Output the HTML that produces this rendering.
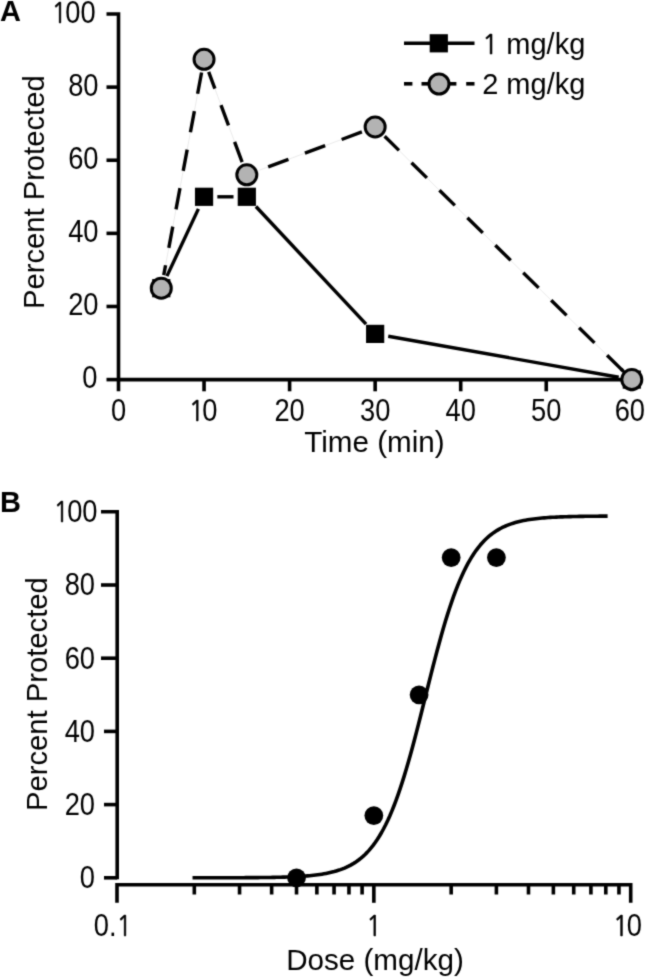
<!DOCTYPE html>
<html><head><meta charset="utf-8"><title>Figure</title>
<style>html,body{margin:0;padding:0;background:#fff;}svg{display:block;}</style></head>
<body><svg width="645" height="977" viewBox="0 0 645 977" font-family='"Liberation Sans", Arial, Helvetica, sans-serif' font-size="29" fill="#000">
<defs><filter id="soft" x="0" y="0" width="1" height="1" color-interpolation-filters="sRGB"><feConvolveMatrix order="3" kernelMatrix="0.03 0.1 0.03 0.1 0.48 0.1 0.03 0.1 0.03" edgeMode="duplicate"/></filter></defs>
<g filter="url(#soft)">
<rect width="645" height="977" fill="#fff"/>
<path d="M106.5,14.00 H118.5 V391.3" fill="none" stroke="#000" stroke-width="3.6" stroke-linejoin="miter"/>
<line x1="106.5" y1="379.60" x2="118.5" y2="379.60" stroke="#000" stroke-width="3.6"/>
<line x1="106.5" y1="306.48" x2="118.5" y2="306.48" stroke="#000" stroke-width="3.6"/>
<line x1="106.5" y1="233.36" x2="118.5" y2="233.36" stroke="#000" stroke-width="3.6"/>
<line x1="106.5" y1="160.24" x2="118.5" y2="160.24" stroke="#000" stroke-width="3.6"/>
<line x1="106.5" y1="87.12" x2="118.5" y2="87.12" stroke="#000" stroke-width="3.6"/>
<line x1="117.0" y1="379.6" x2="631.80" y2="379.6" stroke="#000" stroke-width="3.6"/>
<line x1="204.05" y1="379.6" x2="204.05" y2="391.3" stroke="#000" stroke-width="3.6"/>
<line x1="289.60" y1="379.6" x2="289.60" y2="391.3" stroke="#000" stroke-width="3.6"/>
<line x1="375.15" y1="379.6" x2="375.15" y2="391.3" stroke="#000" stroke-width="3.6"/>
<line x1="460.70" y1="379.6" x2="460.70" y2="391.3" stroke="#000" stroke-width="3.6"/>
<line x1="546.25" y1="379.6" x2="546.25" y2="391.3" stroke="#000" stroke-width="3.6"/>
<line x1="631.80" y1="379.6" x2="631.80" y2="391.3" stroke="#000" stroke-width="3.6"/>
<text x="0" y="0" transform="translate(97.5,388.00) scale(0.88,1)" text-anchor="end" font-size="31">0</text>
<text x="0" y="0" transform="translate(98.5,314.88) scale(0.88,1)" text-anchor="end" font-size="31">20</text>
<text x="0" y="0" transform="translate(98.5,241.76) scale(0.88,1)" text-anchor="end" font-size="31">40</text>
<text x="0" y="0" transform="translate(98.5,168.64) scale(0.88,1)" text-anchor="end" font-size="31">60</text>
<text x="0" y="0" transform="translate(98.5,95.52) scale(0.88,1)" text-anchor="end" font-size="31">80</text>
<text x="0" y="0" transform="translate(95.6,23.10) scale(0.88,1)" text-anchor="end" font-size="31"><tspan font-family="NanumGothic, &quot;Liberation Sans&quot;, sans-serif" stroke="#000" stroke-width="0.6" font-size="0.933em">1</tspan><tspan dx="-2.0">0</tspan>0</text>
<text x="0" y="0" transform="translate(118.50,421.4) scale(0.88,1)" text-anchor="middle" font-size="31">0</text>
<text x="0" y="0" transform="translate(203.05,421.4) scale(0.88,1)" text-anchor="middle" font-size="31"><tspan font-family="NanumGothic, &quot;Liberation Sans&quot;, sans-serif" stroke="#000" stroke-width="0.6" font-size="0.933em">1</tspan><tspan dx="-2.0">0</tspan></text>
<text x="0" y="0" transform="translate(289.60,421.4) scale(0.88,1)" text-anchor="middle" font-size="31">20</text>
<text x="0" y="0" transform="translate(375.15,421.4) scale(0.88,1)" text-anchor="middle" font-size="31">30</text>
<text x="0" y="0" transform="translate(460.70,421.4) scale(0.88,1)" text-anchor="middle" font-size="31">40</text>
<text x="0" y="0" transform="translate(546.25,421.4) scale(0.88,1)" text-anchor="middle" font-size="31">50</text>
<text x="0" y="0" transform="translate(629.80,421.4) scale(0.88,1)" text-anchor="middle" font-size="31">60</text>
<text x="374.4" y="452.1" text-anchor="middle" font-size="29.6">Time (min)</text>
<text transform="translate(43.6,192.2) rotate(-90)" text-anchor="middle" font-size="29.2">Percent Protected</text>
<text x="0" y="21" font-weight="bold" font-size="29">A</text>
<line x1="166.91" y1="276.15" x2="198.41" y2="208.85" stroke="#000" stroke-width="3.4"/>
<line x1="217.35" y1="196.80" x2="233.52" y2="196.80" stroke="#000" stroke-width="3.4"/>
<line x1="255.91" y1="206.51" x2="366.06" y2="324.19" stroke="#000" stroke-width="3.4"/>
<line x1="388.24" y1="336.23" x2="618.71" y2="377.27" stroke="#000" stroke-width="3.4"/>
<line x1="163.72" y1="275.13" x2="201.61" y2="72.41" stroke="#e4e4e4" stroke-width="0.8"/><line x1="163.72" y1="275.13" x2="201.61" y2="72.41" stroke="#000" stroke-width="3.4" stroke-dasharray="21.6 17.6" stroke-dashoffset="11.50"/>
<line x1="208.67" y1="71.81" x2="242.21" y2="162.39" stroke="#e4e4e4" stroke-width="0.8"/><line x1="208.67" y1="71.81" x2="242.21" y2="162.39" stroke="#000" stroke-width="3.4" stroke-dasharray="21.6 17.6" stroke-dashoffset="3.70"/>
<line x1="259.29" y1="170.21" x2="362.69" y2="131.62" stroke="#e4e4e4" stroke-width="0.8"/><line x1="259.29" y1="170.21" x2="362.69" y2="131.62" stroke="#000" stroke-width="3.4" stroke-dasharray="21.6 17.6" stroke-dashoffset="29.70"/>
<line x1="384.63" y1="136.30" x2="623.53" y2="371.46" stroke="#e4e4e4" stroke-width="0.8"/><line x1="384.63" y1="136.30" x2="623.53" y2="371.46" stroke="#000" stroke-width="3.4" stroke-dasharray="21.6 17.6" stroke-dashoffset="1.50"/>
<line x1="621.11" y1="369.08" x2="623.53" y2="371.46" stroke="#000" stroke-width="3.4"/>
<rect x="152.18" y="279.10" width="18.2" height="18.2" fill="#000"/>
<rect x="194.95" y="187.70" width="18.2" height="18.2" fill="#000"/>
<rect x="237.72" y="187.70" width="18.2" height="18.2" fill="#000"/>
<rect x="366.05" y="324.80" width="18.2" height="18.2" fill="#000"/>
<rect x="622.70" y="370.50" width="18.2" height="18.2" fill="#000"/>
<circle cx="161.28" cy="288.20" r="10.0" fill="#b3b3b3" stroke="#000" stroke-width="3"/>
<circle cx="204.05" cy="59.33" r="10.0" fill="#b3b3b3" stroke="#000" stroke-width="3"/>
<circle cx="246.82" cy="174.86" r="10.0" fill="#b3b3b3" stroke="#000" stroke-width="3"/>
<circle cx="375.15" cy="126.97" r="10.0" fill="#b3b3b3" stroke="#000" stroke-width="3"/>
<circle cx="631.80" cy="379.60" r="10.0" fill="#b3b3b3" stroke="#000" stroke-width="3"/>
<line x1="404" y1="43.2" x2="474.5" y2="43.2" stroke="#000" stroke-width="3.6"/>
<rect x="429.70" y="34.20" width="18.2" height="18.2" fill="#000"/>
<line x1="404" y1="83.8" x2="412.4" y2="83.8" stroke="#000" stroke-width="3.6"/>
<line x1="421.5" y1="83.8" x2="430" y2="83.8" stroke="#000" stroke-width="3.6"/>
<line x1="448" y1="83.8" x2="456.4" y2="83.8" stroke="#000" stroke-width="3.6"/>
<line x1="466.2" y1="83.8" x2="474.5" y2="83.8" stroke="#000" stroke-width="3.6"/>
<circle cx="439" cy="84" r="10.0" fill="#b3b3b3" stroke="#000" stroke-width="3"/>
<text x="481.9" y="53.8"><tspan font-family="NanumGothic, &quot;Liberation Sans&quot;, sans-serif" stroke="#000" stroke-width="0.6" font-size="0.933em">1</tspan> mg/kg</text>
<text x="482.2" y="93.8">2 mg/kg</text>
<path d="M101,511.80 H117.2 V879.3" fill="none" stroke="#000" stroke-width="3.6" stroke-linejoin="miter"/>
<line x1="104" y1="877.80" x2="117.2" y2="877.80" stroke="#000" stroke-width="3.6"/>
<line x1="104" y1="804.60" x2="117.2" y2="804.60" stroke="#000" stroke-width="3.6"/>
<line x1="104" y1="731.40" x2="117.2" y2="731.40" stroke="#000" stroke-width="3.6"/>
<line x1="101" y1="658.20" x2="117.2" y2="658.20" stroke="#000" stroke-width="3.6"/>
<line x1="101" y1="585.00" x2="117.2" y2="585.00" stroke="#000" stroke-width="3.6"/>
<path d="M117.0,902.8 V884.8 H630.70 V902.8" fill="none" stroke="#000" stroke-width="3.6" stroke-linejoin="miter"/>
<line x1="373.85" y1="884.8" x2="373.85" y2="902.8" stroke="#000" stroke-width="3.6"/>
<line x1="194.32" y1="884.8" x2="194.32" y2="894.5" stroke="#000" stroke-width="3.6"/>
<line x1="239.55" y1="884.8" x2="239.55" y2="894.5" stroke="#000" stroke-width="3.6"/>
<line x1="271.64" y1="884.8" x2="271.64" y2="894.5" stroke="#000" stroke-width="3.6"/>
<line x1="296.53" y1="884.8" x2="296.53" y2="894.5" stroke="#000" stroke-width="3.6"/>
<line x1="316.87" y1="884.8" x2="316.87" y2="894.5" stroke="#000" stroke-width="3.6"/>
<line x1="334.06" y1="884.8" x2="334.06" y2="894.5" stroke="#000" stroke-width="3.6"/>
<line x1="348.96" y1="884.8" x2="348.96" y2="894.5" stroke="#000" stroke-width="3.6"/>
<line x1="362.10" y1="884.8" x2="362.10" y2="894.5" stroke="#000" stroke-width="3.6"/>
<line x1="451.17" y1="884.8" x2="451.17" y2="894.5" stroke="#000" stroke-width="3.6"/>
<line x1="496.40" y1="884.8" x2="496.40" y2="894.5" stroke="#000" stroke-width="3.6"/>
<line x1="528.49" y1="884.8" x2="528.49" y2="894.5" stroke="#000" stroke-width="3.6"/>
<line x1="553.38" y1="884.8" x2="553.38" y2="894.5" stroke="#000" stroke-width="3.6"/>
<line x1="573.72" y1="884.8" x2="573.72" y2="894.5" stroke="#000" stroke-width="3.6"/>
<line x1="590.91" y1="884.8" x2="590.91" y2="894.5" stroke="#000" stroke-width="3.6"/>
<line x1="605.81" y1="884.8" x2="605.81" y2="894.5" stroke="#000" stroke-width="3.6"/>
<line x1="618.95" y1="884.8" x2="618.95" y2="894.5" stroke="#000" stroke-width="3.6"/>
<text x="0" y="0" transform="translate(95.0,888.20) scale(0.88,1)" text-anchor="end" font-size="31">0</text>
<text x="0" y="0" transform="translate(95.0,815.00) scale(0.88,1)" text-anchor="end" font-size="31">20</text>
<text x="0" y="0" transform="translate(95.0,741.80) scale(0.88,1)" text-anchor="end" font-size="31">40</text>
<text x="0" y="0" transform="translate(95.0,668.60) scale(0.88,1)" text-anchor="end" font-size="31">60</text>
<text x="0" y="0" transform="translate(95.0,595.40) scale(0.88,1)" text-anchor="end" font-size="31">80</text>
<text x="0" y="0" transform="translate(97.5,522.20) scale(0.88,1)" text-anchor="end" font-size="31"><tspan font-family="NanumGothic, &quot;Liberation Sans&quot;, sans-serif" stroke="#000" stroke-width="0.6" font-size="0.933em">1</tspan><tspan dx="-2.0">0</tspan>0</text>
<text x="0" y="0" transform="translate(112.80,935.8) scale(0.88,1)" text-anchor="middle" font-size="31">0.<tspan font-family="NanumGothic, &quot;Liberation Sans&quot;, sans-serif" stroke="#000" stroke-width="0.6" font-size="0.933em">1</tspan></text>
<text x="0" y="0" transform="translate(373.85,935.8) scale(0.88,1)" text-anchor="middle" font-size="31"><tspan font-family="NanumGothic, &quot;Liberation Sans&quot;, sans-serif" stroke="#000" stroke-width="0.6" font-size="0.933em">1</tspan></text>
<text x="0" y="0" transform="translate(627.50,935.8) scale(0.88,1)" text-anchor="middle" font-size="31"><tspan font-family="NanumGothic, &quot;Liberation Sans&quot;, sans-serif" stroke="#000" stroke-width="0.6" font-size="0.933em">1</tspan><tspan dx="-2.0">0</tspan></text>
<text x="375.0" y="969.9" text-anchor="middle" font-size="29.6">Dose (mg/kg)</text>
<text transform="translate(47.2,694.1) rotate(-90)" text-anchor="middle" font-size="29.2">Percent Protected</text>
<text x="0" y="512" font-weight="bold" font-size="29">B</text>
<polyline points="194.32,877.79 196.38,877.79 198.43,877.78 200.49,877.78 202.55,877.78 204.61,877.78 206.66,877.78 208.72,877.78 210.78,877.77 212.84,877.77 214.89,877.77 216.95,877.77 219.01,877.76 221.07,877.76 223.12,877.75 225.18,877.75 227.24,877.74 229.30,877.74 231.35,877.73 233.41,877.73 235.47,877.72 237.53,877.71 239.58,877.70 241.64,877.70 243.70,877.69 245.76,877.67 247.81,877.66 249.87,877.65 251.93,877.64 253.99,877.62 256.04,877.60 258.10,877.58 260.16,877.56 262.22,877.54 264.27,877.52 266.33,877.49 268.39,877.46 270.45,877.43 272.50,877.39 274.56,877.35 276.62,877.31 278.67,877.26 280.73,877.21 282.79,877.15 284.85,877.09 286.90,877.02 288.96,876.95 291.02,876.87 293.08,876.78 295.13,876.68 297.19,876.58 299.25,876.46 301.31,876.33 303.36,876.19 305.42,876.04 307.48,875.87 309.54,875.69 311.59,875.49 313.65,875.27 315.71,875.03 317.77,874.77 319.82,874.48 321.88,874.17 323.94,873.83 326.00,873.45 328.05,873.04 330.11,872.59 332.17,872.10 334.23,871.57 336.28,870.98 338.34,870.34 340.40,869.65 342.46,868.89 344.51,868.06 346.57,867.15 348.63,866.17 350.69,865.09 352.74,863.93 354.80,862.65 356.86,861.27 358.92,859.77 360.97,858.14 363.03,856.37 365.09,854.46 367.14,852.38 369.20,850.14 371.26,847.71 373.32,845.10 375.37,842.28 377.43,839.24 379.49,835.99 381.55,832.49 383.60,828.74 385.66,824.74 387.72,820.47 389.78,815.93 391.83,811.11 393.89,806.00 395.95,800.60 398.01,794.91 400.06,788.93 402.12,782.67 404.18,776.13 406.24,769.32 408.29,762.27 410.35,754.97 412.41,747.46 414.47,739.75 416.52,731.88 418.58,723.86 420.64,715.74 422.70,707.54 424.75,699.29 426.81,691.04 428.87,682.81 430.93,674.63 432.98,666.55 435.04,658.59 437.10,650.79 439.16,643.16 441.21,635.74 443.27,628.54 445.33,621.58 447.39,614.89 449.44,608.47 451.50,602.32 453.56,596.47 455.62,590.90 457.67,585.62 459.73,580.63 461.79,575.93 463.84,571.50 465.90,567.35 467.96,563.46 470.02,559.82 472.07,556.42 474.13,553.26 476.19,550.32 478.25,547.58 480.30,545.05 482.36,542.70 484.42,540.53 486.48,538.52 488.53,536.67 490.59,534.96 492.65,533.39 494.71,531.94 496.76,530.61 498.82,529.38 500.88,528.25 502.94,527.22 504.99,526.27 507.05,525.39 509.11,524.60 511.17,523.86 513.22,523.19 515.28,522.58 517.34,522.01 519.40,521.50 521.45,521.02 523.51,520.59 525.57,520.20 527.63,519.84 529.68,519.50 531.74,519.20 533.80,518.93 535.86,518.67 537.91,518.44 539.97,518.23 542.03,518.04 544.09,517.86 546.14,517.70 548.20,517.55 550.26,517.42 552.32,517.30 554.37,517.19 556.43,517.08 558.49,516.99 560.54,516.90 562.60,516.83 564.66,516.76 566.72,516.69 568.77,516.63 570.83,516.58 572.89,516.53 574.95,516.48 577.00,516.44 579.06,516.40 581.12,516.37 583.18,516.34 585.23,516.31 587.29,516.28 589.35,516.26 591.41,516.24 593.46,516.22 595.52,516.20 597.58,516.18 599.64,516.17 601.69,516.15 603.75,516.14 605.81,516.13" fill="none" stroke="#000" stroke-width="3.6" stroke-linejoin="round" stroke-linecap="square"/>
<circle cx="296.53" cy="877.80" r="9.4" fill="#000"/>
<circle cx="373.85" cy="815.58" r="9.4" fill="#000"/>
<circle cx="419.08" cy="694.80" r="9.4" fill="#000"/>
<circle cx="451.17" cy="557.55" r="9.4" fill="#000"/>
<circle cx="496.40" cy="557.55" r="9.4" fill="#000"/>
</g>
</svg></body></html>
